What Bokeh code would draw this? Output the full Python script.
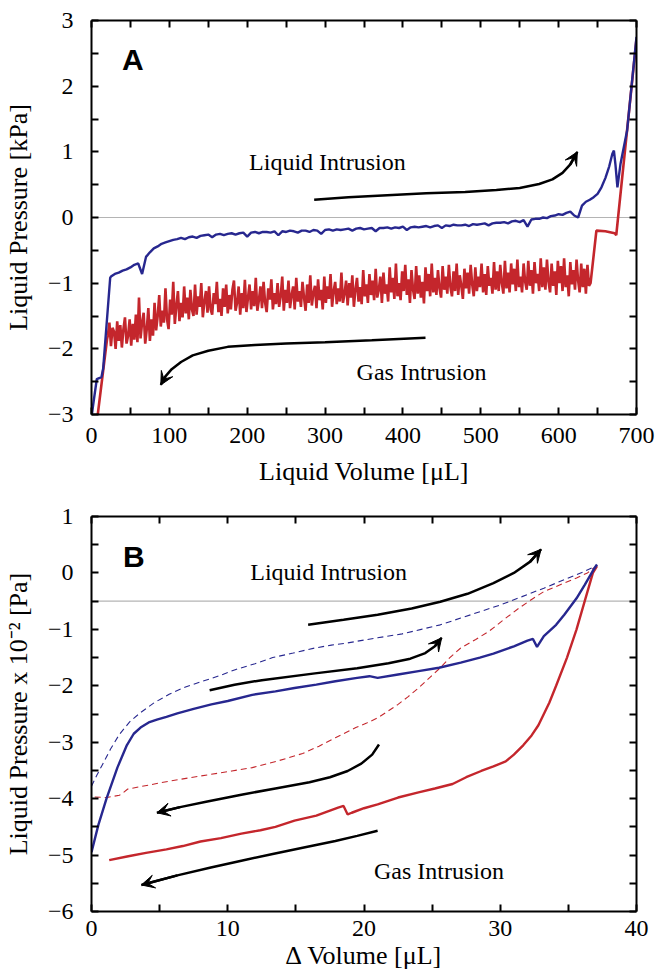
from bokeh.plotting import figure
from bokeh.layouts import column
from bokeh.models import Range1d, LinearAxis, FixedTicker, Span, Arrow, VeeHead
from bokeh.embed import file_html
from bokeh.resources import INLINE
from bokeh.core.properties import value

# ---------------- Panel A data ----------------
# Liquid intrusion (blue)
blueA_start_x = [0, 1.7, 6.8, 12.8, 15, 24]
blueA_start_y = [-3.05, -2.89, -2.46, -2.43, -2.30, -0.92]
blueA_mid_x = list(range(25, 645, 5))
blueA_mid_y = [
    -0.90, -0.86, -0.84, -0.81, -0.79, -0.76, -0.72, -0.70, -0.86, -0.60,
    -0.53, -0.47, -0.44, -0.40, -0.38, -0.36, -0.34, -0.33, -0.31, -0.33,
    -0.30, -0.29, -0.31, -0.28, -0.27, -0.26, -0.30, -0.26, -0.25, -0.27,
    -0.25, -0.24, -0.26, -0.24, -0.23, -0.29, -0.23, -0.22, -0.24, -0.22,
    -0.22, -0.23, -0.21, -0.27, -0.21, -0.22, -0.20, -0.21, -0.23, -0.20,
    -0.20, -0.22, -0.19, -0.20, -0.25, -0.19, -0.18, -0.20, -0.18, -0.19,
    -0.18, -0.17, -0.20, -0.17, -0.16, -0.18, -0.17, -0.16, -0.21, -0.16,
    -0.16, -0.15, -0.17, -0.15, -0.16, -0.14, -0.19, -0.15, -0.14, -0.15,
    -0.14, -0.13, -0.15, -0.13, -0.12, -0.16, -0.12, -0.13, -0.11, -0.12,
    -0.12, -0.11, -0.13, -0.10, -0.11, -0.10, -0.09, -0.12, -0.09, -0.08,
    -0.08, -0.07, -0.09, -0.06, -0.05, -0.07, -0.04, -0.14, -0.03, -0.02,
    -0.02, 0.00, -0.01, 0.02, 0.03, 0.05, 0.04, 0.07, 0.09, 0.03,
    0.00, 0.18, 0.24, 0.27,
]
blueA_end_x = [645, 650, 655, 660, 665, 669, 671, 673, 675.5, 679.5, 688, 700]
blueA_end_y = [0.31, 0.36, 0.46, 0.60, 0.78, 0.97, 1.02, 0.80, 0.46, 0.82, 1.33, 2.75]

# Gas intrusion (red)
redA_start_x = [7, 20]
redA_start_y = [-3.1, -1.85]
redA_mid_x = list(range(21, 642, 2))
redA_mid_y = [
    -1.80, -1.60, -1.96, -1.68, -1.74, -2.00, -1.58, -1.88, -1.64, -1.98,
    -1.70, -1.52, -1.92, -1.80, -1.55, -1.95, -1.62, -1.86, -1.48, -1.90,
    -1.22, -1.84, -1.60, -1.45, -1.92, -1.70, -1.38, -1.88, -1.55, -1.80,
    -1.30, -1.72, -1.50, -1.18, -1.66, -1.42, -1.60, -1.08, -1.55, -1.70,
    -1.25, -1.48, -0.98, -1.62, -1.35, -1.12, -1.58, -1.30, -1.52, -1.05,
    -1.46, -1.22, -1.55, -1.10, -1.40, -1.50, -1.02, -1.48, -1.20, -1.36,
    -1.00, -1.52, -1.28, -1.12, -1.45, -1.05, -1.40, -1.48, -1.15, -1.32,
    -0.98, -1.44, -1.24, -1.50, -1.08, -1.36, -1.02, -1.46, -1.18, -1.40,
    -1.10, -0.96, -1.42, -1.30, -1.05, -1.48, -1.15, -1.38, -0.95, -1.44,
    -1.22, -1.02, -1.40, -1.12, -1.35, -0.92, -1.42, -1.26, -1.05, -1.38,
    -0.98, -1.30, -1.44, -1.08, -1.25, -0.94, -1.40, -1.15, -1.32, -1.00,
    -1.36, -1.20, -0.90, -1.42, -1.10, -1.30, -0.96, -1.38, -1.18, -1.05,
    -1.40, -0.92, -1.28, -1.12, -1.36, -0.98, -1.22, -1.42, -1.02, -1.30,
    -0.88, -1.34, -1.15, -1.04, -1.38, -0.94, -1.26, -1.10, -1.40, -0.90,
    -1.30, -1.05, -1.24, -0.86, -1.36, -1.12, -0.98, -1.32, -1.08, -1.28,
    -0.84, -1.30, -1.16, -0.96, -1.34, -1.00, -1.22, -0.88, -1.36, -1.10,
    -0.92, -1.28, -1.06, -1.32, -0.80, -1.20, -1.02, -1.30, -0.86, -1.18,
    -0.96, -1.26, -0.78, -1.22, -1.10, -0.90, -1.30, -0.84, -1.16, -1.02,
    -1.28, -0.76, -1.14, -0.92, -1.24, -0.70, -1.20, -1.00, -1.26, -0.82,
    -1.12, -0.72, -1.18, -0.94, -1.30, -0.80, -1.10, -1.24, -0.74, -1.16,
    -0.88, -1.22, -0.98, -1.31, -0.76, -1.12, -0.86, -1.20, -0.70, -1.14,
    -0.92, -1.18, -0.80, -1.08, -1.22, -0.74, -1.10, -0.90, -1.16, -0.72,
    -1.06, -1.20, -0.82, -1.12, -0.70, -1.18, -0.88, -1.04, -1.24, -0.78,
    -1.08, -0.84, -1.16, -0.72, -1.02, -1.20, -0.76, -1.12, -0.90, -1.06,
    -0.70, -1.14, -0.86, -1.18, -0.74, -1.04, -0.92, -1.16, -0.68, -1.10,
    -0.82, -1.12, -0.72, -1.00, -1.16, -0.66, -1.08, -0.84, -1.14, -0.70,
    -1.02, -0.78, -1.12, -0.64, -1.06, -0.90, -1.14, -0.70, -0.98, -1.10,
    -0.66, -1.04, -0.80, -1.16, -0.68, -1.00, -0.86, -1.12, -0.62, -1.06,
    -0.76, -1.10, -0.64, -0.98, -1.14, -0.70, -1.04, -0.82, -1.18, -0.66,
    -1.00, -0.74, -1.12, -0.62, -1.06, -0.88, -1.20, -0.68, -1.02, -0.80,
    -1.10, -0.64, -0.96, -1.14, -0.70, -1.06, -0.78, -1.16, -0.72, -1.04,
    -1.00,
]
redA_end_x = [648.5, 660, 672, 674, 700]
redA_end_y = [-0.20, -0.21, -0.24, -0.27, 2.72]

# Annotation arrows in A
arrA_liq_x = [286, 330, 380, 430, 480, 520, 550, 575, 592, 605, 615, 624]
arrA_liq_y = [0.27, 0.31, 0.34, 0.37, 0.39, 0.42, 0.45, 0.51, 0.58, 0.68, 0.81, 1.0]
arrA_gas_x = [429, 360, 300, 250, 210, 175, 150, 130, 115, 103, 95, 89]
arrA_gas_y = [-1.83, -1.87, -1.90, -1.92, -1.94, -1.97, -2.03, -2.10, -2.20, -2.31, -2.42, -2.55]

xticksA = [0, 100, 200, 300, 400, 500, 600, 700]
xminorA = [50, 150, 250, 350, 450, 550, 650]
yticksA = [-3, -2, -1, 0, 1, 2, 3]
yminorA = [-2.5, -1.5, -0.5, 0.5, 1.5, 2.5]

# ---------------- Panel B data ----------------
blueB_x = [0, 0.5, 1.1, 1.9, 2.6, 3.1, 3.6, 4.2, 4.8, 5.5, 6.3, 7.5, 8.8, 10, 11.8,
           13.5, 14.9, 16.5, 17.9, 19.5, 20.4, 21, 22.5, 24, 25.5, 27.1, 28.5, 29.5,
           31, 32.0, 32.4, 32.7, 33.2, 34.1, 34.7, 35.6, 36.2, 36.85, 37.1]
blueB_y = [-4.95, -4.47, -4.0, -3.45, -3.05, -2.85, -2.74, -2.65, -2.6, -2.55, -2.49,
           -2.41, -2.33, -2.27, -2.16, -2.10, -2.04, -1.98, -1.92, -1.86, -1.83, -1.86,
           -1.80, -1.74, -1.68, -1.59, -1.50, -1.43, -1.30, -1.20, -1.17, -1.31, -1.12,
           -0.92, -0.74, -0.45, -0.21, 0.06, 0.15]
redB_x = [37.1, 36.8, 36.2, 35.6, 34.9, 34.1, 33.6, 33.2, 32.8, 32.3, 31.7, 31.0, 30.4,
          29.5, 28.6, 27.5, 26.5, 25.2, 24, 22.5, 21, 20.0, 19.1, 18.8, 18.5, 18.1, 16.5,
          14.9, 13.5, 12.4, 11, 9.5, 8, 6.7, 5.5, 4, 2.7, 1.3]
redB_y = [0.12, 0.0, -0.5, -1.0, -1.5, -2.0, -2.3, -2.5, -2.7, -2.88, -3.05, -3.22, -3.34,
          -3.43, -3.51, -3.62, -3.74, -3.82, -3.89, -3.98, -4.1, -4.17, -4.25, -4.28, -4.13,
          -4.16, -4.3, -4.39, -4.5, -4.56, -4.62, -4.70, -4.76, -4.84, -4.9, -4.96, -5.02,
          -5.09]
blueB_dash_x = [0, 0.4, 0.82, 1.4, 2.05, 2.8, 3.57, 4.6, 5.7, 6.9, 8.15, 9.4, 10.6, 12,
                13.3, 14.8, 16.4, 17.6, 18.8, 20, 21, 22.8, 24.2, 25.6, 27.1, 28.6, 30.1,
                31.6, 33.2, 34.7, 36.2, 37.1]
blueB_dash_y = [-3.78, -3.58, -3.39, -3.12, -2.86, -2.64, -2.48, -2.3, -2.15, -2.02, -1.92,
                -1.82, -1.71, -1.61, -1.5, -1.42, -1.33, -1.28, -1.24, -1.19, -1.15, -1.08,
                -1.0, -0.92, -0.8, -0.68, -0.56, -0.42, -0.27, -0.12, 0.03, 0.13]
redB_dash_x = [37.1, 36.4, 35.6, 34.4, 33.2, 32.3, 31.4, 30.3, 29.2, 28.2, 27.1, 26.3, 25.6,
               24.8, 24, 23.2, 22.5, 21.7, 21, 20.2, 19.4, 17.9, 16.7, 15.5, 13.7, 11.8,
               10.3, 8.76, 7.2, 5.7, 4.2, 2.66, 2.3, 2.05, 1.13, 0]
redB_dash_y = [0.13, 0.0, -0.09, -0.21, -0.33, -0.47, -0.62, -0.82, -1.03, -1.18, -1.33,
               -1.5, -1.68, -1.86, -2.04, -2.2, -2.33, -2.46, -2.57, -2.66, -2.74, -2.92,
               -3.07, -3.2, -3.33, -3.45, -3.51, -3.57, -3.63, -3.69, -3.76, -3.83, -3.9,
               -3.94, -3.98, -3.97]

arrB_liq1_x = [15.9, 18.5, 21, 23.5, 25.6, 27.6, 29.5, 31, 32.2, 33]
arrB_liq1_y = [-0.92, -0.83, -0.74, -0.63, -0.51, -0.37, -0.18, 0.0, 0.2, 0.42]
arrB_liq2_x = [8.67, 10.5, 12.5, 16.4, 19.5, 21.8, 23.4, 24.5, 25.2, 25.7]
arrB_liq2_y = [-2.08, -1.98, -1.9, -1.78, -1.69, -1.6, -1.52, -1.42, -1.3, -1.15]
arrB_gas1_x = [21.1, 20.6, 19.8, 18.8, 17.5, 16.0, 13.5, 11, 8.5, 6.5, 4.8]
arrB_gas1_y = [-3.04, -3.22, -3.38, -3.51, -3.62, -3.71, -3.82, -3.93, -4.05, -4.15, -4.25]
arrB_gas2_x = [21, 19.5, 17.9, 15.5, 13.3, 11, 8.76, 6.3, 3.66]
arrB_gas2_y = [-4.57, -4.66, -4.75, -4.87, -4.98, -5.1, -5.22, -5.36, -5.53]

xticksB = [0, 10, 20, 30, 40]
xminorB = [5, 15, 25, 35]
yticksB = [-6, -5, -4, -3, -2, -1, 0, 1]
yminorB = [-5.5, -4.5, -3.5, -2.5, -1.5, -0.5, 0.5]

BLUE = "#27278f"
RED = "#c4262c"
SERIF = "Liberation Serif"


def style_axis(ax, ticks, minor, labels=True):
    ax.ticker = FixedTicker(ticks=ticks, minor_ticks=minor)
    ax.axis_line_width = 2
    ax.axis_line_color = "black"
    ax.major_tick_in = 7
    ax.major_tick_out = 0
    ax.minor_tick_in = 7
    ax.minor_tick_out = 0
    ax.major_tick_line_width = 2
    ax.minor_tick_line_width = 2
    ax.major_tick_line_color = "black"
    ax.minor_tick_line_color = "black"
    ax.major_label_text_font = SERIF
    if labels:
        ax.major_label_text_font_size = "24px"
        ax.major_label_text_color = "black"
    else:
        ax.major_label_text_font_size = "1px"
        ax.major_label_text_color = None
        ax.major_label_standoff = 0
    ax.axis_label_text_font = SERIF
    ax.axis_label_text_font_size = "26px"
    ax.axis_label_text_font_style = "normal"
    ax.axis_label_text_color = "black"


def make_fig(height, top, bottom, xr, yr, xt, xm, yt, ym, xlabel, ylabel,
             x_std, x_lab_std):
    p = figure(width=656, height=height, x_range=Range1d(*xr), y_range=Range1d(*yr),
               output_backend="svg", toolbar_location=None,
               min_border_left=90, min_border_right=20,
               min_border_top=top, min_border_bottom=bottom)
    p.xgrid.visible = False
    p.ygrid.visible = False
    p.outline_line_color = None
    p.background_fill_color = "white"
    p.border_fill_color = "white"
    style_axis(p.xaxis[0], xt, xm)
    style_axis(p.yaxis[0], yt, ym)
    p.xaxis[0].axis_label = xlabel
    p.yaxis[0].axis_label = ylabel
    p.xaxis[0].major_label_standoff = x_std
    p.xaxis[0].axis_label_standoff = x_lab_std
    p.yaxis[0].major_label_standoff = 18
    p.yaxis[0].axis_label_standoff = 12
    ax_r = LinearAxis()
    style_axis(ax_r, yt, ym, labels=False)
    p.add_layout(ax_r, "right")
    ax_t = LinearAxis()
    style_axis(ax_t, xt, xm, labels=False)
    p.add_layout(ax_t, "above")
    return p


def curved_arrow(p, xs, ys):
    p.line(xs, ys, line_color="black", line_width=2.5)
    p.add_layout(Arrow(end=VeeHead(size=13, fill_color="black", line_color="black", line_width=1),
                       x_start=xs[-2], y_start=ys[-2], x_end=xs[-1], y_end=ys[-1],
                       line_color="black", line_width=2.5))


# ---------------- Panel A ----------------
pA = make_fig(490, 20, 76, (0, 700), (-3, 3), xticksA, xminorA, yticksA, yminorA,
              "Liquid Volume [\u03bcL]", "Liquid Pressure [kPa]", 13, 11)
pA.add_layout(Span(location=0, dimension="width", line_color="#b4b4b4", line_width=1.2,
                   level="underlay"))
pA.line(redA_start_x + redA_mid_x + redA_end_x, redA_start_y + redA_mid_y + redA_end_y,
        line_color=RED, line_width=2.6)
pA.line(blueA_start_x + blueA_mid_x + blueA_end_x, blueA_start_y + blueA_mid_y + blueA_end_y,
        line_color=BLUE, line_width=2.4)
curved_arrow(pA, arrA_liq_x, arrA_liq_y)
curved_arrow(pA, arrA_gas_x, arrA_gas_y)
pA.text(x=[303, 424], y=[0.84, -2.35], text=["Liquid Intrusion", "Gas Intrusion"],
        text_font=value(SERIF), text_font_size="24px", text_align="center",
        text_baseline="middle", text_color="black")
pA.text(x=[53], y=[2.4], text=["A"], text_font=value("Liberation Sans"),
        text_font_style="bold", text_font_size="30px", text_align="center",
        text_baseline="middle", text_color="black")

# ---------------- Panel B ----------------
pB = make_fig(482, 26, 61, (0, 40), (-6, 1), xticksB, xminorB, yticksB, yminorB,
              "\u0394 Volume [\u03bcL]", "Liquid Pressure x 10\u207b\u00b2 [Pa]", 9, 2)
pB.add_layout(Span(location=-0.5, dimension="width", line_color="#b4b4b4", line_width=1.2,
                   level="underlay"))
pB.line(blueB_dash_x, blueB_dash_y, line_color=BLUE, line_width=1.1, line_dash="6 4")
pB.line(redB_dash_x, redB_dash_y, line_color=RED, line_width=1.1, line_dash="6 4")
pB.line(redB_x, redB_y, line_color=RED, line_width=2.4)
pB.line(blueB_x, blueB_y, line_color=BLUE, line_width=2.4)
curved_arrow(pB, arrB_liq1_x, arrB_liq1_y)
curved_arrow(pB, arrB_liq2_x, arrB_liq2_y)
curved_arrow(pB, arrB_gas1_x, arrB_gas1_y)
curved_arrow(pB, arrB_gas2_x, arrB_gas2_y)
pB.text(x=[17.4, 25.5], y=[0.01, -5.28], text=["Liquid Intrusion", "Gas Intrusion"],
        text_font=value(SERIF), text_font_size="24px", text_align="center",
        text_baseline="middle", text_color="black")
pB.text(x=[3.1], y=[0.29], text=["B"], text_font=value("Liberation Sans"),
        text_font_style="bold", text_font_size="30px", text_align="center",
        text_baseline="middle", text_color="black")

layout = column(pA, pB, spacing=0)
open("out.html", "w").write(file_html(layout, INLINE))
